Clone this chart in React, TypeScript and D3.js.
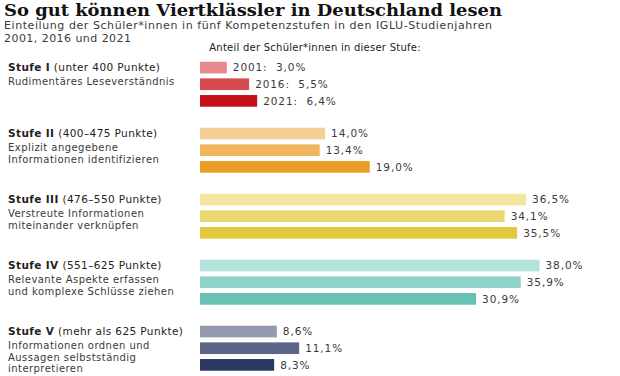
import React from "react";
import * as d3 from "d3";

const stufen = ["Stufe I", "Stufe II", "Stufe III", "Stufe IV", "Stufe V"];
const ranges = ["(unter 400 Punkte)", "(400–475 Punkte)", "(476–550 Punkte)", "(551–625 Punkte)", "(mehr als 625 Punkte)"];
const descriptions = [
  ["Rudimentäres Leseverständnis"],
  ["Explizit angegebene", "Informationen identifizieren"],
  ["Verstreute Informationen", "miteinander verknüpfen"],
  ["Relevante Aspekte erfassen", "und komplexe Schlüsse ziehen"],
  ["Informationen ordnen und", "Aussagen selbstständig", "interpretieren"],
];
const years = ["2001", "2016", "2021"];
const values2001 = [3.0, 14.0, 36.5, 38.0, 8.6];
const values2016 = [5.5, 13.4, 34.1, 35.9, 11.1];
const values2021 = [6.4, 19.0, 35.5, 30.9, 8.3];
const colors = [
  ["#e5898c", "#d74a4f", "#c8101a"],
  ["#f5cf94", "#efb55d", "#eb9d27"],
  ["#f3e6a1", "#ead973", "#e3c93b"],
  ["#b4e2dc", "#8ed2c8", "#67c1b4"],
  ["#969aae", "#5d6689", "#2a3763"],
];

const title = "So gut können Viertklässler in Deutschland lesen";
const subtitle = ["Einteilung der Schüler*innen in fünf Kompetenzstufen in den IGLU-Studienjahren", "2001, 2016 und 2021"];
const axisNote = "Anteil der Schüler*innen in dieser Stufe:";

const fmt = d3.formatLocale({ decimal: ",", thousands: ".", grouping: [3], currency: ["", "€"] }).format(".1f");

export default function App() {
  const W = 620, H = 376;
  const series = [values2001, values2016, values2021];
  const x = d3.scaleLinear().domain([0, 38]).range([200, 539.5]);
  const yGroup = d3.scaleBand<string>().domain(stufen).range([61.7, 61.7 + 66 * 5]).padding(0);
  const yYear = d3.scaleBand<string>().domain(years).range([0, 45]).paddingInner(0.3).paddingOuter(0);
  const sans = "'DejaVu Sans', Verdana, sans-serif";
  const textColor = "#3a3a3a";

  return (
    <svg width={W} height={H} style={{ position: "absolute", left: 0, top: 0, background: "#fff" }}>
      <text x={4} y={16} fontFamily="'DejaVu Serif', serif" fontWeight="bold" fontSize={16.5} fill="#111" textLength={498} lengthAdjust="spacingAndGlyphs">{title}</text>
      <text x={4} y={29} fontFamily={sans} fontSize={11} fill={textColor} textLength={488} lengthAdjust="spacing">{subtitle[0]}</text>
      <text x={4} y={41.5} fontFamily={sans} fontSize={11} fill={textColor} letterSpacing={0.45}>{subtitle[1]}</text>
      <text x={315} y={51} textAnchor="middle" fontFamily={sans} fontSize={10} fill="#222" letterSpacing={0.25}>{axisNote}</text>
      {stufen.map((s, gi) => {
        const g0 = yGroup(s)!;
        return (
          <g key={s}>
            <text x={8} y={g0 + 9.5} fontFamily={sans} fontSize={10.5} fill="#222" letterSpacing={0.4}>
              <tspan fontWeight="bold">{s}</tspan> {ranges[gi]}
            </text>
            {descriptions[gi].map((d, li) => (
              <text key={li} x={8} y={g0 + 23.5 + li * 11.5} fontFamily={sans} fontSize={10} fill={textColor} letterSpacing={0.45}>{d}</text>
            ))}
            {years.map((yr, yi) => {
              const v = series[yi][gi];
              const y0 = g0 + yYear(yr)!;
              const label = gi === 0 ? `${yr}:  ${fmt(v)}%` : `${fmt(v)}%`;
              return (
                <g key={yr}>
                  <rect x={x(0)} y={y0} width={x(v) - x(0)} height={yYear.bandwidth()} fill={colors[gi][yi]} />
                  <text x={x(v) + 6} y={y0 + yYear.bandwidth() / 2 + 3.8} fontFamily={sans} fontSize={10.5} fill={textColor} letterSpacing={0.9} style={{ whiteSpace: "pre" }}>{label}</text>
                </g>
              );
            })}
          </g>
        );
      })}
    </svg>
  );
}
